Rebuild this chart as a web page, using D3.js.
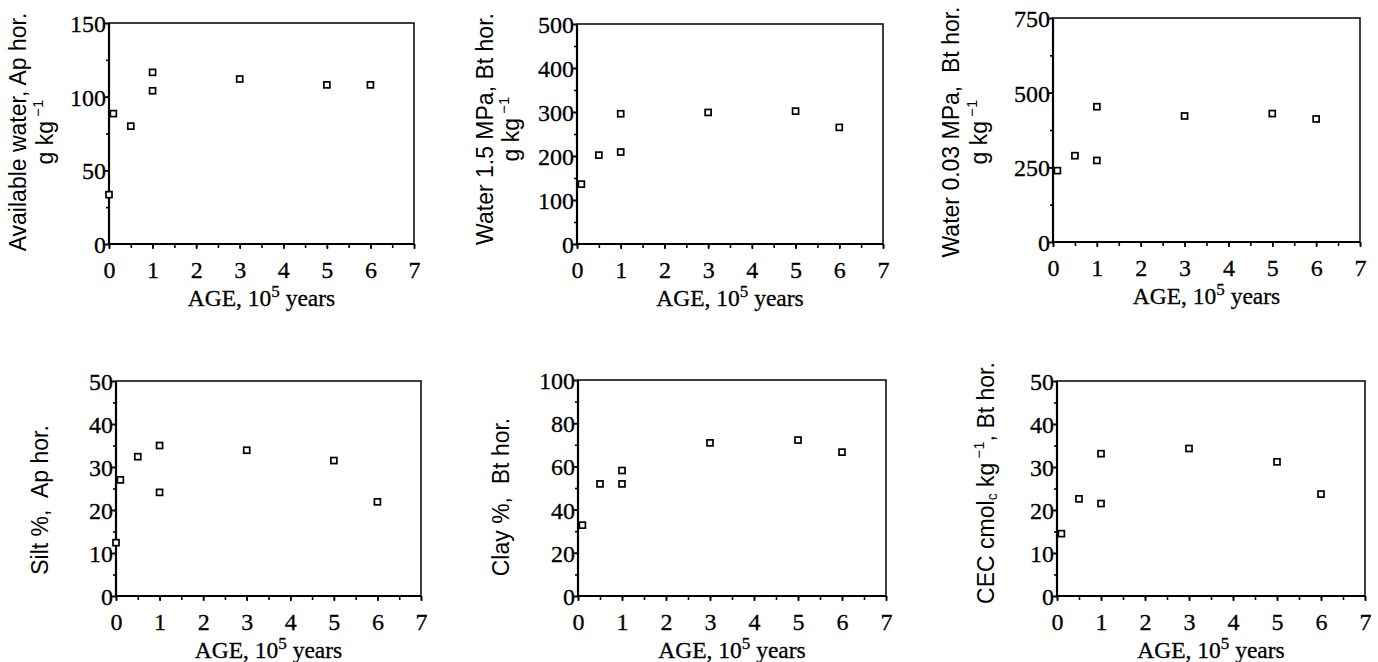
<!DOCTYPE html>
<html>
<head>
<meta charset="utf-8">
<script src="https://cdn.jsdelivr.net/npm/d3@7"></script>
<style>
  html, body { margin: 0; padding: 0; background: #fff; }
  svg { display: block; }
  .tick text { font-family: "Liberation Serif", "Times New Roman", serif; font-size: 24px; fill: #000; stroke: #000; stroke-width: 0.3px; }
  .ytitle { font-family: "Liberation Sans", Arial, sans-serif; font-size: 23px; fill: #000; }
  .xtitle { font-family: "Liberation Serif", "Times New Roman", serif; font-size: 23.5px; fill: #000; stroke: #000; stroke-width: 0.3px; }
</style>
</head>
<body>
<div id="chart"></div>
<script>
// ages (10^5 years) - panels with the extra zero-age point use agesAp
const agesAp = [0, 0.1, 0.5, 1, 1, 3, 5, 6];
const agesBt = [0.1, 0.5, 1, 1, 3, 5, 6];

// series
const availWater = [33.5, 88.5, 80, 116.5, 104, 112, 108, 108];
const water15 = [136, 202, 296, 209, 299, 302, 265];
const water003 = [239, 289, 453, 273, 422, 430, 412];
const siltAp = [12.4, 27, 32.4, 35, 24.1, 33.9, 31.5, 21.9];
const clayBt = [32.8, 51.9, 58.1, 51.9, 70.9, 72.2, 66.6];
const cecBt = [14.5, 22.6, 33.1, 21.5, 34.3, 31.2, 23.7];

// y axis tick values
const yTicksAw = [0, 50, 100, 150];
const yTicksW15 = [0, 100, 200, 300, 400, 500];
const yTicksW003 = [0, 250, 500, 750];
const yTicks50 = [0, 10, 20, 30, 40, 50];
const yTicks100 = [0, 20, 40, 60, 80, 100];
const xTicks = [0, 1, 2, 3, 4, 5, 6, 7];

const W = 1378, H = 662;
const svg = d3.select('#chart').append('svg')
  .attr('width', W).attr('height', H);

// panel boxes are layout only; values come from the arrays above
const panels = [
  { ages: agesAp, vals: availWater, ymax: 150, ticks: yTicksAw, minorStep: 25,
    box: [109, 23, 414, 244], title: ['Available water, Ap hor.', 'gkg'], tx: [20, 47], ty: 132 },
  { ages: agesBt, vals: water15, ymax: 500, ticks: yTicksW15, minorStep: 50,
    box: [577, 24, 883, 244], title: ['Water 1.5 MPa, Bt hor.', 'gkg'], tx: [487, 513], ty: 129 },
  { ages: agesBt, vals: water003, ymax: 750, ticks: yTicksW003, minorStep: 125,
    box: [1053, 18, 1360, 242], title: ['Water 0.03 MPa,  Bt hor.', 'gkg'], tx: [953, 981], ty: 132 },
  { ages: agesAp, vals: siltAp, ymax: 50, ticks: yTicks50, minorStep: 5,
    box: [116, 381, 421, 596], title: ['Silt %,  Ap hor.'], tx: [42], ty: 500 },
  { ages: agesBt, vals: clayBt, ymax: 100, ticks: yTicks100, minorStep: 10,
    box: [578, 380, 886, 596], title: ['Clay %,  Bt hor.'], tx: [503], ty: 497 },
  { ages: agesBt, vals: cecBt, ymax: 50, ticks: yTicks50, minorStep: 5,
    box: [1057, 381, 1365, 596], title: ['cec'], tx: [988], ty: 483 }
];

panels.forEach(p => {
  const [x0, y0, x1, y1] = p.box;
  const x = d3.scaleLinear().domain([0, 7]).range([x0, x1]);
  const y = d3.scaleLinear().domain([0, p.ymax]).range([y1, y0]);
  const g = svg.append('g');

  // frame
  g.append('rect')
    .attr('x', x0).attr('y', y0).attr('width', x1 - x0).attr('height', y1 - y0)
    .attr('fill', 'none').attr('stroke', '#000').attr('stroke-width', 1.5);

  // minor ticks
  const xMinor = d3.range(0, 7.01, 0.5);
  const yMinor = d3.range(0, p.ymax + 0.01, p.minorStep);
  g.append('g').attr('transform', `translate(0,${y1})`)
    .call(d3.axisBottom(x).tickValues(xMinor).tickSize(4).tickFormat(''))
    .call(a => a.select('.domain').remove());
  g.append('g').attr('transform', `translate(${x0},0)`)
    .call(d3.axisLeft(y).tickValues(yMinor).tickSize(3).tickFormat(''))
    .call(a => a.select('.domain').remove());

  // major axes
  const ax = g.append('g').attr('transform', `translate(0,${y1})`)
    .call(d3.axisBottom(x).tickValues(xTicks).tickSize(5).tickFormat(d3.format('d')));
  ax.select('.domain').remove();
  ax.selectAll('.tick text').attr('y', 26).attr('dy', '0.35em');

  const ay = g.append('g').attr('transform', `translate(${x0},0)`)
    .call(d3.axisLeft(y).tickValues(p.ticks).tickSize(5).tickFormat(d3.format('d')));
  ay.select('.domain').remove();
  ay.selectAll('.tick text').attr('x', -3).attr('dy', '0.35em');

  g.selectAll('.tick line').attr('stroke', '#000').attr('stroke-width', 1.6);

  // heavier left and bottom axis lines
  g.append('line').attr('x1', x0).attr('x2', x0).attr('y1', y0).attr('y2', y1 + 1)
    .attr('stroke', '#000').attr('stroke-width', 2.2);
  g.append('line').attr('x1', x0 - 1).attr('x2', x1).attr('y1', y1).attr('y2', y1)
    .attr('stroke', '#000').attr('stroke-width', 2.2);

  // data squares
  const s = 6;
  g.selectAll('rect.pt')
    .data(p.ages.map((a, i) => [a, p.vals[i]]))
    .join('rect')
    .attr('class', 'pt')
    .attr('x', d => x(d[0]) - s / 2)
    .attr('y', d => y(d[1]) - s / 2)
    .attr('width', s).attr('height', s)
    .attr('fill', '#fff').attr('stroke', '#000').attr('stroke-width', 1.7);

  // x title
  const xt = g.append('text').attr('class', 'xtitle')
    .attr('x', (x0 + x1) / 2).attr('y', y1 + 62)
    .attr('text-anchor', 'middle');
  xt.append('tspan').text('AGE, 10');
  xt.append('tspan').attr('dy', -9).attr('font-size', 17).text('5');
  xt.append('tspan').attr('dy', 9).text(' years');

  // y title (rotated)
  p.title.forEach((t, i) => {
    const tt = g.append('text').attr('class', 'ytitle')
      .attr('transform', `translate(${p.tx[i]},${p.ty}) rotate(-90)`)
      .attr('text-anchor', 'middle')
      .attr('dominant-baseline', 'middle')
      .attr('xml:space', 'preserve')
      .style('white-space', 'pre');
    if (t === 'gkg') {
      tt.append('tspan').text('g kg');
      tt.append('tspan').attr('dy', -8).attr('font-size', 15).text(' \u22121');
    } else if (t === 'cec') {
      tt.append('tspan').text('CEC cmol');
      tt.append('tspan').attr('dy', 5).attr('font-size', 14).text('c');
      tt.append('tspan').attr('dy', -5).text(' kg');
      tt.append('tspan').attr('dy', -8).attr('font-size', 15).text(' \u22121');
      tt.append('tspan').attr('dy', 8).text(', Bt hor.');
    } else {
      tt.text(t);
    }
  });
});
</script>
</body>
</html>
